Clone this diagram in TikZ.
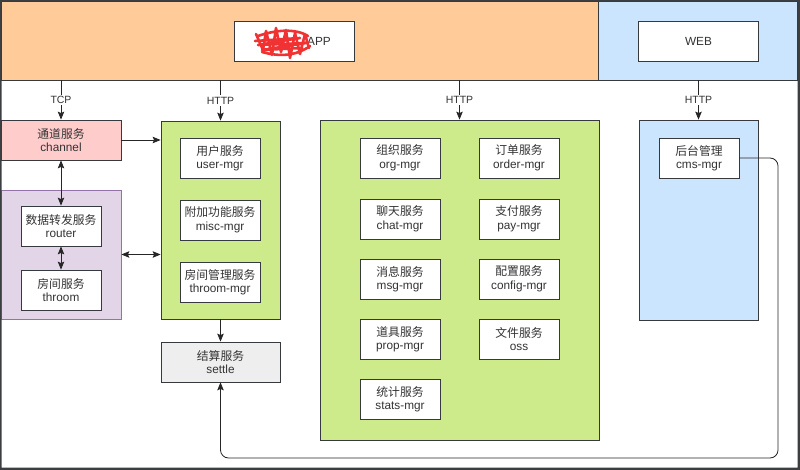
\documentclass[tikz,border=0pt]{standalone}
\usepackage{fontspec}
\setmainfont{Liberation Sans}
\newfontfamily\cjk{Noto Sans CJK SC}
\usetikzlibrary{arrows.meta}
\definecolor{strk}{HTML}{36393D}
\definecolor{txt}{HTML}{333333}
\definecolor{orangef}{HTML}{FFCC99}
\definecolor{bluef}{HTML}{CCE5FF}
\definecolor{pinkf}{HTML}{FFCCCC}
\definecolor{purplef}{HTML}{E1D5E7}
\definecolor{purples}{HTML}{9673A6}
\definecolor{greenf}{HTML}{CDEB8B}
\definecolor{grayf}{HTML}{EEEEEE}
\definecolor{framec}{HTML}{3C3F41}
\definecolor{scrib}{HTML}{F03232}
\tikzset{
  region/.style={draw=strk, line width=0.8pt, inner sep=0pt},
  svc/.style={draw=strk, fill=white, line width=0.8pt, minimum width=80pt, minimum height=40pt,
    inner sep=0pt, align=center, text=txt, font=\fontsize{11.8}{13.5}\selectfont},
  conn/.style={draw=black!85, line width=0.8pt},
  arr/.style={conn, -{Stealth[length=8pt,width=6.5pt,inset=1.5pt]}},
  darr/.style={conn, {Stealth[length=8pt,width=6.5pt,inset=1.5pt]}-{Stealth[length=8pt,width=6.5pt,inset=1.5pt]}},
  lbl/.style={fill=white, text=txt, font=\fontsize{10.5}{12}\selectfont, inner sep=1.5pt}
}
\begin{document}
\begin{tikzpicture}[x=1pt,y=-1pt]
\useasboundingbox (0,0) rectangle (800,470);
\fill[white] (0,0) rectangle (800,470);
% top bars
\node[region, fill=orangef, minimum width=597pt, minimum height=79pt] (appbar) at (299.5,40.5) {};
\node[region, fill=bluef, minimum width=199pt, minimum height=79pt] (webbar) at (697.5,40.5) {};
\node[svc, minimum width=120pt] (app) at (294.5,41) {};
\node[text=txt, font=\fontsize{11.8}{13.5}\selectfont] (apptxt) at (319,41) {APP};
\draw[scrib, line width=2.6pt, line cap=round, line join=round]
  (256,34) -- (263,50) -- (266,31) -- (272,55) -- (276,28) -- (281,52) -- (286,30) -- (290,58) -- (295,33) -- (300,54) -- (305,34) -- (309,48)
  (255,41) -- (300,38) -- (258,45) -- (306,43) -- (262,50) -- (302,48)
  (258,36) .. controls (275,30) and (295,28) .. (308,36)
  (262,52) .. controls (280,57) and (296,56) .. (310,46);
\node[svc, minimum width=120pt] (web) at (698.5,41) {WEB};
% left column
\node[svc, fill=pinkf, minimum width=120pt] (channel) at (61,140) {{\cjk 通道服务}\\channel};
\node[region, draw=purples, fill=purplef, minimum width=120pt, minimum height=129pt] (purple) at (61,254.5) {};
\node[svc] (router) at (61,226) {{\cjk 数据转发服务}\\router};
\node[svc] (throom) at (61,290) {{\cjk 房间服务}\\throom};
% green left
\node[region, fill=greenf, minimum width=119pt, minimum height=198pt] (gl) at (220.5,220) {};
\node[svc] (user) at (220,158) {{\cjk 用户服务}\\user-mgr};
\node[svc] (misc) at (220,220) {{\cjk 附加功能服务}\\misc-mgr};
\node[svc] (throommgr) at (220,282) {{\cjk 房间管理服务}\\throom-mgr};
\node[svc, fill=grayf, minimum width=119pt] (settle) at (220.5,362) {{\cjk 结算服务}\\settle};
% green middle
\node[region, fill=greenf, minimum width=279pt, minimum height=320pt] (gm) at (459.5,280) {};
\node[svc] (org) at (400,158) {{\cjk 组织服务}\\org-mgr};
\node[svc] (chat) at (400,219) {{\cjk 聊天服务}\\chat-mgr};
\node[svc] (msg) at (400,279) {{\cjk 消息服务}\\msg-mgr};
\node[svc] (prop) at (400,339) {{\cjk 道具服务}\\prop-mgr};
\node[svc] (stats) at (400,399) {{\cjk 统计服务}\\stats-mgr};
\node[svc] (order) at (519,158) {{\cjk 订单服务}\\order-mgr};
\node[svc] (pay) at (519,219) {{\cjk 支付服务}\\pay-mgr};
\node[svc] (config) at (519,279) {{\cjk 配置服务}\\config-mgr};
\node[svc] (oss) at (519,339) {{\cjk 文件服务}\\oss};
% right blue
\node[region, fill=bluef, minimum width=119pt, minimum height=200pt] (gr) at (698.5,220) {};
\node[svc] (cms) at (699,158) {{\cjk 后台管理}\\cms-mgr};
% connectors
\draw[arr] (channel.north |- appbar.south) -- node[lbl] (l1) {TCP} (channel.north);
\draw[arr] (gl.north |- appbar.south) -- node[lbl] (l2) {HTTP} (gl.north);
\draw[arr] (gm.north |- appbar.south) -- node[lbl] (l3) {HTTP} (gm.north);
\draw[arr] (gr.north |- webbar.south) -- node[lbl] (l4) {HTTP} (gr.north);
\draw[darr] (channel.south) -- (router.north);
\draw[darr] (router.south) -- (throom.north);
\draw[arr] (channel.east) -- (channel.east -| gl.west);
\draw[darr] (purple.east) -- (purple.east -| gl.west);
\draw[arr] (gl.south) -- (settle.north);
\coordinate (loopc) at (778,458);
\draw[arr, rounded corners=8pt] (cms.east) -| (loopc) -| (settle.south);
% screenshot frame
\fill[framec, even odd rule] (0,0) rectangle (800,470) (1.5,1.5) rectangle (797.5,467.5);
\end{tikzpicture}
\end{document}
